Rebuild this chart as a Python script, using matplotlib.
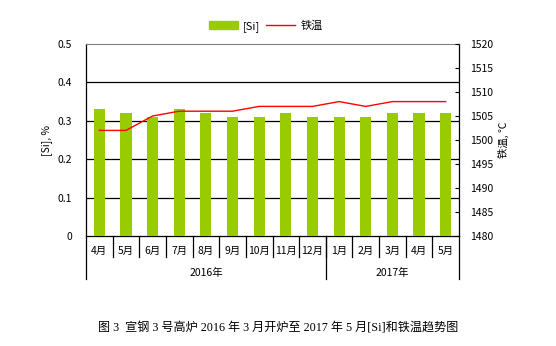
import matplotlib
matplotlib.use("Agg")
import matplotlib.pyplot as plt
import matplotlib.transforms as mtransforms
from matplotlib.lines import Line2D
from matplotlib.patches import Patch
import numpy as np

plt.rcParams['font.family'] = ['Noto Sans CJK SC', 'DejaVu Sans']

# monthly data, 2016-04 .. 2017-05
months = ["4月", "5月", "6月", "7月", "8月", "9月", "10月", "11月", "12月",
          "1月", "2月", "3月", "4月", "5月"]
years = ["2016年", "2017年"]
year_spans = [(0, 8), (9, 13)]
si = [0.33, 0.32, 0.31, 0.33, 0.32, 0.31, 0.31, 0.32, 0.31, 0.31, 0.31, 0.32, 0.32, 0.32]
iron_temp = [1502, 1502, 1505, 1506, 1506, 1506, 1507, 1507, 1507, 1508, 1507, 1508, 1508, 1508]

green = "#99CC00"
red = "#FF0000"

fig = plt.figure(figsize=(5.56, 3.46), dpi=100)
ax = fig.add_axes([86/556, 1-236/346, (459-86)/556, 192/346])

x = np.arange(len(months))
ax.bar(x, si, width=0.42, color=green, zorder=3)
ax.set_xlim(-0.5, len(months) - 0.5)
ax.set_ylim(0, 0.5)
ax.set_yticks([0, 0.1, 0.2, 0.3, 0.4, 0.5])
ax.set_yticklabels(["0", "0.1", "0.2", "0.3", "0.4", "0.5"], fontsize=7.5)
ax.tick_params(axis='y', length=0, pad=10)
ax.set_xticks([])
for yv in [0.1, 0.2, 0.3, 0.4]:
    ax.axhline(yv, color="black", lw=0.9, zorder=1)
ax.spines['top'].set_color("#808080")
for s in ['left', 'bottom', 'right']:
    ax.spines[s].set_color("black")
    ax.spines[s].set_linewidth(0.9)
ax.set_ylabel("[Si], %", fontsize=7.5, labelpad=4)

ax2 = ax.twinx()
ax2.plot(x, iron_temp, color=red, lw=1.0, zorder=4)
ax2.set_ylim(1480, 1520)
ax2.set_yticks(np.arange(1480, 1521, 5))
ax2.tick_params(axis='y', direction='in', length=3, width=0.8, labelsize=7.5, pad=8)
ax2.set_ylabel("铁温, ℃", fontsize=7.5, rotation=90, labelpad=3)
for s in ax2.spines.values():
    s.set_visible(False)

# category axis: month labels, dividers, year groups
trans = mtransforms.blended_transform_factory(ax.transData, ax.transAxes)
for i in range(len(months) - 1):
    ax.plot([i + 0.5, i + 0.5], [0, -21/192], color="black", lw=0.9,
            transform=trans, clip_on=False)
for i, m in enumerate(months):
    ax.text(i, -0.08, m, ha="center", va="center", fontsize=7.5, transform=trans)
for b in [-0.5, year_spans[0][1] + 0.5, len(months) - 0.5]:
    ax.plot([b, b], [0, -43/192], color="black", lw=0.9,
            transform=trans, clip_on=False)
for yr, (a, b) in zip(years, year_spans):
    ax.text((a + b) / 2, -0.19, yr, ha="center", va="center", fontsize=7.5, transform=trans)

handles = [Patch(color=green, label="[Si]"), Line2D([], [], color=red, lw=1.0, label="铁温")]
fig.legend(handles=handles, loc="center", bbox_to_anchor=(0.478, 1-26/346), ncol=2,
           frameon=False, fontsize=8, handlelength=2.6, handleheight=0.8,
           columnspacing=0.5, handletextpad=0.5)

fig.text(278/556, 1-328/346,
         "图 3  宣钢 3 号高炉 2016 年 3 月开炉至 2017 年 5 月[Si]和铁温趋势图",
         ha="center", va="center", fontsize=8.7,
         family=['Liberation Serif', 'Noto Sans CJK SC'])

fig.savefig("out.png", dpi=100)
